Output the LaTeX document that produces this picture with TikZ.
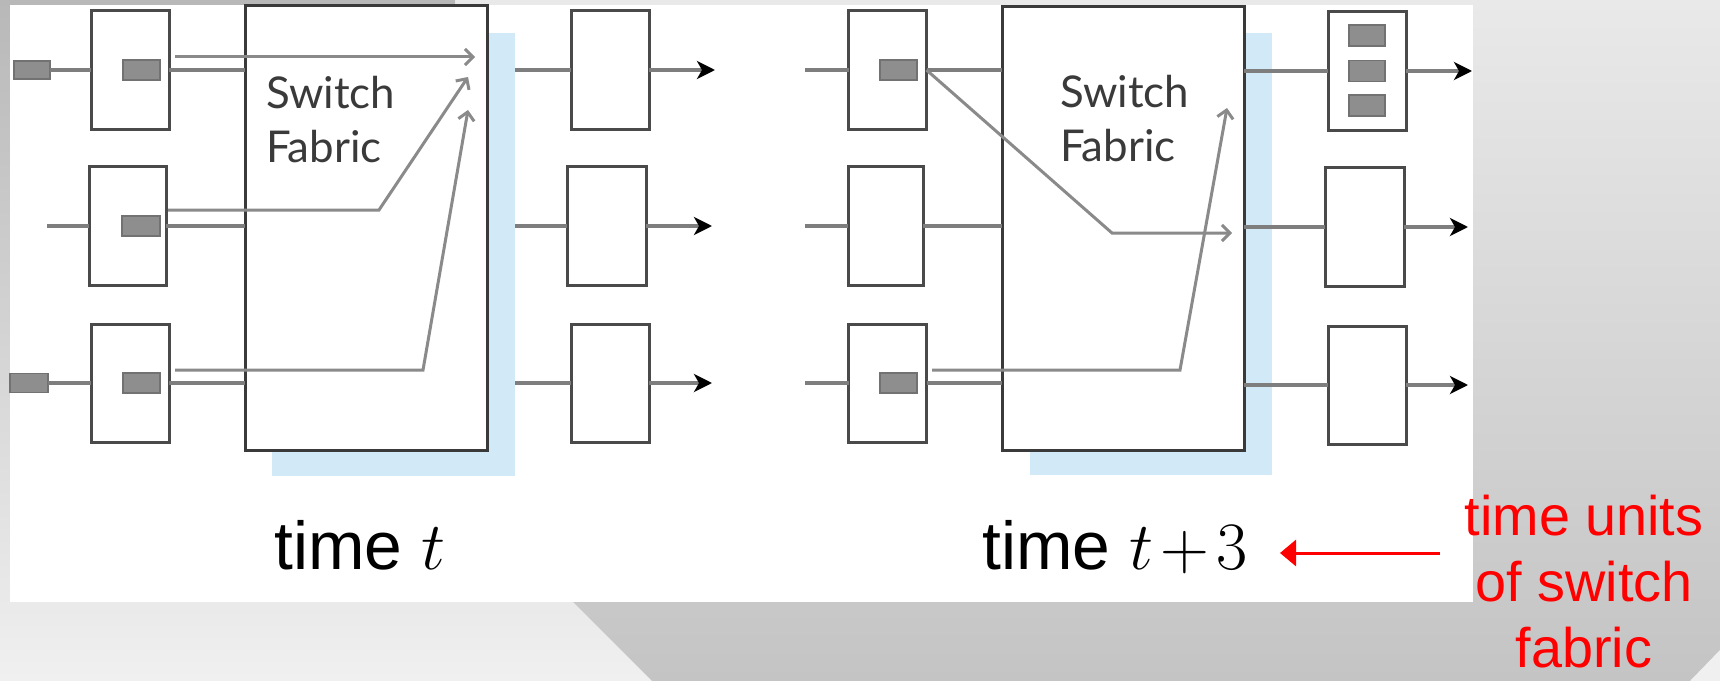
\RequirePackage{fix-cm}
\documentclass[tikz,border=0pt]{standalone}
\usepackage[no-math]{fontspec}
\setmainfont{Liberation Sans}
\newfontfamily\fabfont{Lato}
\usetikzlibrary{arrows.meta}
\definecolor{ln}{HTML}{7E7E7E}
\definecolor{bx}{HTML}{4A4A4A}
\definecolor{fb}{HTML}{3A3A3A}
\definecolor{pk}{HTML}{8E8E8E}
\definecolor{pkb}{HTML}{727272}
\definecolor{shd}{HTML}{D2EAF8}
\definecolor{flowc}{HTML}{8A8A8A}
\definecolor{bgA}{HTML}{B8B8B8}
\definecolor{bgB}{HTML}{F0F0F0}
\definecolor{bgC}{HTML}{E9E9E9}
\definecolor{bgD}{HTML}{C4C4C4}
\definecolor{txtc}{HTML}{3A3A3A}
\begin{document}
\begin{tikzpicture}[x=1bp,y=-1bp,
  box/.style={draw=bx, line width=3bp, fill=white, minimum width=78bp, minimum height=118bp, inner sep=0pt, outer sep=0pt},
  pkt/.style={draw=pkb, line width=1.5bp, fill=pk, minimum width=37bp, minimum height=20bp, inner sep=0pt, outer sep=0pt},
  fab/.style={draw=fb, line width=3bp, fill=white, minimum width=242bp, minimum height=444bp, inner sep=0pt, outer sep=0pt},
  wire/.style={draw=ln, line width=4bp},
  outwire/.style={wire, -{Stealth[black, length=18bp 0, width=18bp 0, inset=5bp 0]}},
  flow/.style={draw=flowc, line width=3bp, line join=miter, -{Straight Barb[length=8bp 0, width=16bp 0]}},
  fabtxt/.style={font=\fabfont\fontsize{44}{55}\selectfont, text=txtc, align=left, anchor=base west, inner sep=0pt},
  timetxt/.style={font=\fontsize{68}{80}\selectfont, anchor=base west, inner sep=0pt},
  redtxt/.style={font=\fontsize{56}{66}\selectfont, text=red, align=center, anchor=base, inner sep=0pt},
  redarrow/.style={draw=red, line width=3bp, -{Triangle[length=16bp 0, width=26bp 0]}}
]
\useasboundingbox (0,0) rectangle (1720,681);
% background
\shade[top color=bgA, bottom color=bgB] (0,0) -- (455,0) -- (573,602) -- (652,681) -- (0,681) -- cycle;
\shade[top color=bgC, bottom color=bgD] (455,0) -- (1720,0) -- (1720,681) -- (652,681) -- (573,602) -- cycle;
\fill[bgB] (1720,650) -- (1720,681) -- (1690,681) -- cycle;
\fill[white] (10,5) rectangle (1473,602);

% ---------- left panel ----------
\fill[shd] (272,33) rectangle (515,476);
\node[fab] (fabL) at (366,228) {};
\node[box] (inL1) at (130,70) {};
\node[box, minimum width=77bp] (inL2) at (127.5,226) {};
\node[box] (inL3) at (130,383) {};
\node[pkt, minimum width=36bp, minimum height=18bp] (pL0a) at (32,70) {};
\node[pkt, minimum width=38bp, minimum height=19bp] (pL0b) at (29,383) {};
\node[pkt] (pL1) at (141.5,70) {};
\node[pkt, minimum width=38bp] (pL2) at (141,226) {};
\node[pkt] (pL3) at (141.5,383) {};
\coordinate (wL2) at (47,226);
\draw[wire] (pL0a.east) -- (inL1.west);
\draw[wire] (wL2) -- (inL2.west);
\draw[wire] (pL0b.east) -- (inL3.west);
\draw[wire] (inL1.east) -- (inL1.east -| fabL.west);
\draw[wire] (inL2.east) -- (inL2.east -| fabL.west);
\draw[wire] (inL3.east) -- (inL3.east -| fabL.west);
\node[box] (outL1) at (610,70) {};
\node[box, minimum width=79bp] (outL2) at (606.5,226) {};
\node[box] (outL3) at (610,383) {};
\coordinate (sL1) at (515,70);
\coordinate (sL2) at (515,226);
\coordinate (sL3) at (515,383);
\coordinate (tL1) at (715,70);
\coordinate (tL2) at (712,226);
\coordinate (tL3) at (712,383);
\draw[wire] (sL1) -- (outL1.west);
\draw[wire] (sL2) -- (outL2.west);
\draw[wire] (sL3) -- (outL3.west);
\draw[outwire] (outL1.east) -- (tL1);
\draw[outwire] (outL2.east) -- (tL2);
\draw[outwire] (outL3.east) -- (tL3);
\node[fabtxt] (swL) at (266,163) {Switch\\Fabric};
\coordinate (a1s) at (175,57);
\coordinate (a1e) at (475,57);
\coordinate (a2s) at (168,210);
\coordinate (a2m) at (379,210);
\coordinate (a2e) at (468,77);
\coordinate (a3s) at (175,370);
\coordinate (a3m) at (423,370);
\coordinate (a3e) at (468,110);
\draw[flow] (a1s) -- (a1e);
\draw[flow] (a2s) -- (a2m) -- (a2e);
\draw[flow] (a3s) -- (a3m) -- (a3e);
\node[timetxt] (tmL) at (274,569) {time $t$};

% ---------- right panel ----------
\fill[shd] (1030,33) rectangle (1272,475);
\node[fab] (fabR) at (1123,228.5) {};
\node[box] (inR1) at (887.5,70) {};
\node[box, minimum width=75bp] (inR2) at (885.5,226) {};
\node[box] (inR3) at (887.5,383) {};
\node[pkt] (pR1) at (898.5,70) {};
\node[pkt] (pR3) at (898.5,383) {};
\coordinate (wR1) at (805,70);
\coordinate (wR2) at (805,226);
\coordinate (wR3) at (805,383);
\draw[wire] (wR1) -- (inR1.west);
\draw[wire] (wR2) -- (inR2.west);
\draw[wire] (wR3) -- (inR3.west);
\draw[wire] (inR1.east) -- (inR1.east -| fabR.west);
\draw[wire] (inR2.east) -- (inR2.east -| fabR.west);
\draw[wire] (inR3.east) -- (inR3.east -| fabR.west);
\node[box] (outR1) at (1367,71) {};
\node[box, minimum width=79bp] (outR2) at (1364.5,227) {};
\node[box] (outR3) at (1367,385) {};
\node[pkt, minimum width=36bp, minimum height=21bp] (qR1) at (1367,35.5) {};
\node[pkt, minimum width=36bp, minimum height=21bp] (qR2) at (1367,71) {};
\node[pkt, minimum width=36bp, minimum height=21bp] (qR3) at (1367,105.5) {};
\coordinate (tR1) at (1472,71);
\coordinate (tR2) at (1468,227);
\coordinate (tR3) at (1468,385);
\draw[wire] (outR1.west -| fabR.east) -- (outR1.west);
\draw[wire] (outR2.west -| fabR.east) -- (outR2.west);
\draw[wire] (outR3.west -| fabR.east) -- (outR3.west);
\draw[outwire] (outR1.east) -- (tR1);
\draw[outwire] (outR2.east) -- (tR2);
\draw[outwire] (outR3.east) -- (tR3);
\node[fabtxt] (swR) at (1060,162) {Switch\\Fabric};
\coordinate (b1m) at (1112,233);
\coordinate (b1e) at (1232,233);
\coordinate (b2s) at (932,370);
\coordinate (b2m) at (1180,370);
\coordinate (b2e) at (1227,108);
\draw[flow] (inR1.east) -- (b1m) -- (b1e);
\draw[flow] (b2s) -- (b2m) -- (b2e);
\node[timetxt] (tmR) at (982,569) {time $t\mskip2mu{+}\mskip2mu3$};

% ---------- annotation ----------
\node[redtxt] (rt) at (1584,667) {time units\\of switch\\fabric};
\coordinate (ra) at (1440,553);
\coordinate (rb) at (1280,553);
\draw[redarrow] (ra) -- (rb);
\end{tikzpicture}
\end{document}
